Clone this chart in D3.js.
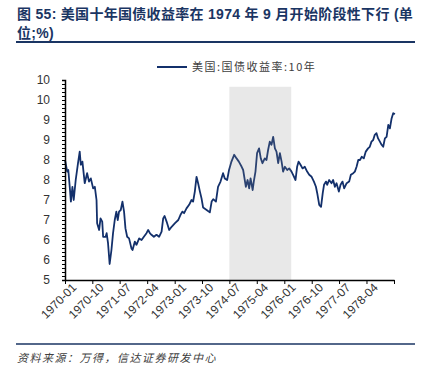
<!DOCTYPE html>
<html>
<head>
<meta charset="utf-8">
<script src="https://cdn.jsdelivr.net/npm/d3@7"></script>
<style>
  html, body { margin: 0; padding: 0; background: #fff; }
  svg { display: block; }
  .title { font-family: "Liberation Sans", "Noto Sans CJK SC", sans-serif; font-weight: bold; font-size: 14px; fill: #1a3563; letter-spacing: 0.3px; }
  .axis text { font-family: "Liberation Sans", Arial, sans-serif; font-size: 12px; fill: #333; }
  .legend { font-family: "Noto Sans CJK SC", "Liberation Sans", sans-serif; font-size: 11px; fill: #404040; letter-spacing: 1.5px; }
  .source { font-family: "Noto Sans CJK SC", sans-serif; font-size: 11px; font-style: italic; fill: #404040; letter-spacing: 1.5px; }
</style>
</head>
<body>
<svg id="chart" width="429" height="371"></svg>
<script>
// 美国:国债收益率:10年
var dates = [
  "1970-01-01","1970-01-23","1970-02-03","1970-02-20","1970-03-01","1970-03-16","1970-03-29","1970-04-18",
  "1970-05-11","1970-05-28","1970-06-08","1970-06-24","1970-07-17","1970-08-10","1970-08-29","1970-09-16",
  "1970-10-09","1970-10-26","1970-11-12","1970-11-18","1970-12-08","1970-12-22","1971-01-08","1971-01-17",
  "1971-02-11","1971-02-21","1971-03-07","1971-03-23","1971-04-10","1971-04-26","1971-05-13","1971-05-29",
  "1971-06-12","1971-06-25","1971-07-12","1971-07-29","1971-08-14","1971-08-28","1971-09-14","1971-10-03",
  "1971-10-27","1971-11-07","1971-11-30","1971-12-16","1972-01-12","1972-02-05","1972-02-28","1972-03-25",
  "1972-04-11","1972-04-28","1972-05-14","1972-06-07","1972-07-03","1972-07-29","1972-08-23","1972-09-08",
  "1972-09-22","1972-10-12","1972-11-07","1972-12-01","1973-01-04","1973-02-06","1973-02-28","1973-03-20",
  "1973-04-05","1973-04-29","1973-05-25","1973-06-18","1973-07-04","1973-07-21","1973-08-07","1973-08-23",
  "1973-09-10","1973-09-26","1973-10-12","1973-11-16","1973-12-18","1974-01-05","1974-01-21","1974-02-17",
  "1974-03-10","1974-04-04","1974-04-29","1974-05-16","1974-06-09","1974-06-28","1974-07-22","1974-08-18",
  "1974-09-11","1974-10-04","1974-11-01","1974-11-16","1974-12-13","1974-12-30","1975-01-15","1975-01-29",
  "1975-02-19","1975-03-02","1975-03-19","1975-04-04","1975-04-24","1975-05-11","1975-05-28","1975-06-20",
  "1975-07-07","1975-07-23","1975-08-09","1975-08-26","1975-09-12","1975-09-29","1975-10-15","1975-11-01",
  "1975-11-18","1975-12-05","1975-12-20","1976-01-07","1976-01-30","1976-02-19","1976-03-13","1976-03-29",
  "1976-04-22","1976-05-08","1976-05-23","1976-06-11","1976-07-01","1976-07-24","1976-08-16","1976-09-06",
  "1976-09-30","1976-10-23","1976-11-12","1976-11-25","1976-12-15","1977-01-02","1977-01-19","1977-02-01",
  "1977-02-21","1977-03-04","1977-03-24","1977-04-17","1977-05-03","1977-05-20","1977-06-06","1977-06-29",
  "1977-07-16","1977-08-05","1977-08-21","1977-09-15","1977-10-10","1977-10-27","1977-11-20","1977-12-06",
  "1977-12-23","1978-01-09","1978-01-26","1978-02-12","1978-03-05","1978-03-25","1978-04-17","1978-05-04",
  "1978-05-21","1978-06-07","1978-06-23","1978-07-10","1978-07-26","1978-08-13","1978-08-30","1978-09-15",
  "1978-10-02","1978-10-19","1978-11-05","1978-11-21","1978-12-08","1978-12-24","1979-01-11"
];
var yields = [
  8.00,7.71,7.75,7.25,6.96,7.33,7.00,7.50,
  7.92,8.21,7.88,7.96,7.42,7.67,7.46,7.54,
  7.29,7.33,7.00,6.42,6.25,6.54,6.46,6.08,
  6.08,6.17,5.92,5.40,5.75,6.17,6.50,6.71,
  6.50,6.71,6.75,6.96,6.71,6.29,6.08,6.04,
  5.79,5.75,5.96,5.88,6.04,6.00,6.08,6.17,
  6.25,6.17,6.13,6.08,6.13,6.08,6.21,6.54,
  6.60,6.46,6.25,6.33,6.42,6.50,6.63,6.71,
  6.67,6.79,6.88,7.00,6.96,7.21,7.58,7.42,
  7.21,7.04,6.81,6.75,6.69,6.96,7.02,6.96,
  7.33,7.46,7.67,7.54,7.50,7.75,7.96,8.13,
  8.04,7.96,7.83,7.75,7.33,7.50,7.29,7.54,
  7.25,7.46,7.71,8.17,8.29,8.04,7.92,8.04,
  8.00,8.25,8.46,8.38,8.58,8.29,8.21,7.92,
  8.17,7.96,7.71,7.83,7.75,7.79,7.71,7.63,
  7.50,7.83,7.96,7.88,7.79,7.83,7.71,7.63,
  7.58,7.46,7.33,7.17,6.88,6.83,7.17,7.38,
  7.46,7.38,7.50,7.42,7.50,7.33,7.42,7.21,
  7.38,7.46,7.29,7.42,7.46,7.63,7.67,7.71,
  7.83,8.00,8.00,8.08,8.04,8.21,8.29,8.33,
  8.46,8.50,8.63,8.67,8.54,8.46,8.38,8.33,
  8.54,8.58,8.88,8.79,9.04,9.17,9.15
];

// 阴影区间 (1974年9月后阶段性下行)
var shadeDates = ["1974-07-01", "1976-03-10"];
var shadeTop = [9.83];

var xTickLabels = ["1970-01","1970-10","1971-07","1972-04","1973-01","1973-10",
                   "1974-07","1975-04","1976-01","1976-10","1977-07","1978-04"];
var xEnd = "1979-01";
var yTicks = [5, 5.5, 6, 6.5, 7, 7.5, 8, 8.5, 9, 9.5, 10];
var yTickLabels = ["5","6","6","7","7","8","8","9","9","10","10"];

var seriesName = "美国:国债收益率:10年";
var titleLines = ["图 55: 美国十年国债收益率在 1974 年 9 月开始阶段性下行 (单", "位;%)"];
var sourceText = "资料来源：万得，信达证券研发中心";

var navy = "#1a3563";
var lineColor = "#13306b";

var svg = d3.select("#chart");
var parse = d3.timeParse("%Y-%m-%d");
var parseMonth = d3.timeParse("%Y-%m");

var data = dates.map(function (d, i) {
    return { date: parse(d), value: yields[i] };
});

var margin = { left: 65, right: 35, top: 80, bottom: 91 };
var x = d3.scaleTime()
    .domain([parseMonth(xTickLabels[0]), parseMonth(xEnd)])
    .range([margin.left, 394]);
var y = d3.scaleLinear()
    .domain([5, 10])
    .range([280, 80]);

// title
var title = svg.append("text").attr("class", "title");
titleLines.forEach(function (t, i) {
    title.append("tspan").attr("x", 17).attr("y", 19 + i * 19).text(t);
});
svg.append("line")
    .attr("x1", 16).attr("x2", 415).attr("y1", 42).attr("y2", 42)
    .attr("stroke", navy).attr("stroke-width", 2);

// legend
svg.append("line")
    .attr("x1", 157).attr("x2", 187).attr("y1", 67).attr("y2", 67)
    .attr("stroke", lineColor).attr("stroke-width", 2);
svg.append("text").attr("class", "legend")
    .attr("x", 192).attr("y", 71)
    .text(seriesName);

// series line
var line = d3.line()
    .x(function (d) { return x(d.date); })
    .y(function (d) { return y(d.value); });

svg.append("path")
    .datum(data)
    .attr("fill", "none")
    .attr("stroke", lineColor)
    .attr("stroke-width", 1.8)
    .attr("stroke-linejoin", "round")
    .attr("d", line);

// shaded band (drawn over the line, translucent)
svg.append("rect")
    .attr("x", x(parse(shadeDates[0])))
    .attr("width", x(parse(shadeDates[1])) - x(parse(shadeDates[0])))
    .attr("y", y(shadeTop[0]))
    .attr("height", y(5) - y(shadeTop[0]))
    .attr("fill", "#8c8c8c")
    .attr("fill-opacity", 0.2);

// y axis: minor ticks every 0.1, labels every 0.5
var yMinor = d3.range(50, 101).map(function (v) { return v / 10; });
var yAxis = d3.axisLeft(y)
    .tickValues(yMinor)
    .tickSize(3)
    .tickPadding(12)
    .tickFormat(function (v) {
        var i = yTicks.indexOf(v);
        return i >= 0 ? yTickLabels[i] : "";
    });
var gy = svg.append("g").attr("class", "axis")
    .attr("transform", "translate(" + margin.left + ",0)")
    .call(yAxis);
gy.select(".domain").attr("stroke", "#000").attr("stroke-width", 1.5);
gy.selectAll(".tick line").attr("stroke", "#000");

// x axis
var xTickDates = xTickLabels.concat([xEnd]).map(function (s) { return parseMonth(s); });
var xAxis = d3.axisBottom(x)
    .tickValues(xTickDates)
    .tickSize(4)
    .tickSizeOuter(0)
    .tickFormat(function (d, i) { return xTickLabels[i] || ""; });
var gx = svg.append("g").attr("class", "axis")
    .attr("transform", "translate(0,280)")
    .call(xAxis);
gx.select(".domain").attr("stroke", "#000").attr("stroke-width", 1.5);
gx.selectAll(".tick line").attr("stroke", "#000");
gx.selectAll(".tick text")
    .attr("text-anchor", "end")
    .attr("dx", "0.2em")
    .attr("dy", "0.6em")
    .attr("transform", "rotate(-45)");

// footer
svg.append("line")
    .attr("x1", 16).attr("x2", 415).attr("y1", 344).attr("y2", 344)
    .attr("stroke", navy).attr("stroke-width", 1.5);
svg.append("text").attr("class", "source")
    .attr("x", 17).attr("y", 362)
    .text(sourceText);
</script>
</body>
</html>
